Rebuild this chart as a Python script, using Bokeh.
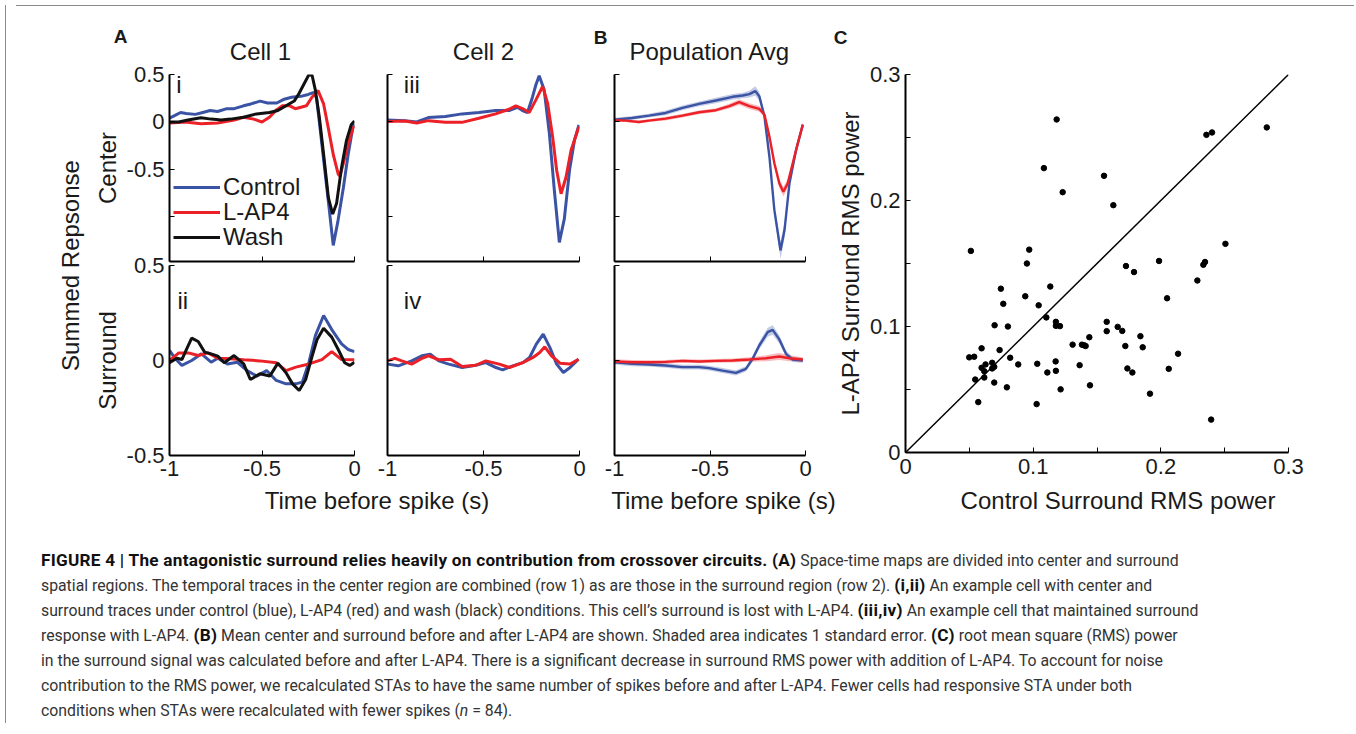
import math
from bokeh.plotting import figure
from bokeh.models import Range1d, FixedTicker, Label, Legend, LegendItem, Slope, Div
from bokeh.layouts import row, column
from bokeh.embed import file_html
from bokeh.resources import INLINE

FONT = "Liberation Sans"
TXT = "#1a1a1a"
BLUE = "#3a53a4"
RED = "#ec2027"
BLACK = "#111111"

# ---------------- data ----------------
# Cell 1, center (i)
c1c_ctrl_t = [-1.00, -0.97, -0.94, -0.91, -0.86, -0.82, -0.78, -0.74, -0.69, -0.65, -0.60, -0.56, -0.51, -0.47,
              -0.42, -0.38, -0.34, -0.29, -0.25, -0.22, -0.205, -0.19, -0.165, -0.14, -0.115, -0.09, -0.06,
              -0.035, -0.01, 0.0]
c1c_ctrl = [0.04, 0.07, 0.10, 0.09, 0.08, 0.10, 0.12, 0.11, 0.14, 0.14, 0.17, 0.19, 0.22, 0.20, 0.20, 0.24, 0.26,
            0.27, 0.29, 0.31, 0.25, 0.00, -0.43, -0.86, -1.30, -1.05, -0.69, -0.35, -0.07, -0.02]
c1c_lap4_t = [-1.00, -0.915, -0.83, -0.74, -0.65, -0.60, -0.545, -0.50, -0.46, -0.42, -0.39, -0.35, -0.32, -0.26,
              -0.23, -0.197, -0.167, -0.141, -0.114, -0.088, -0.079, -0.062, -0.035, -0.009, 0.0]
c1c_lap4 = [-0.01, 0.0, -0.02, -0.01, 0.02, 0.05, 0.03, 0.0, 0.05, 0.13, 0.17, 0.17, 0.14, 0.17, 0.26, 0.33, 0.19,
            -0.07, -0.35, -0.55, -0.57, -0.45, -0.24, -0.07, -0.04]
c1c_wash_t = [-1.00, -0.95, -0.90, -0.83, -0.775, -0.72, -0.67, -0.60, -0.53, -0.46, -0.414, -0.37, -0.326, -0.30,
              -0.273, -0.246, -0.229, -0.211, -0.19, -0.167, -0.141, -0.118, -0.097, -0.07, -0.044, -0.018, 0.0]
c1c_wash = [0.0, 0.0, 0.02, 0.045, 0.03, 0.02, 0.03, 0.05, 0.085, 0.10, 0.12, 0.17, 0.22, 0.30, 0.40, 0.50, 0.49,
            0.33, 0.05, -0.34, -0.80, -0.97, -0.86, -0.48, -0.20, -0.03, 0.01]

# Cell 1, surround (ii)
c1s_ctrl_t = [-1.0, -0.968, -0.933, -0.880, -0.827, -0.775, -0.739, -0.687, -0.634, -0.581, -0.528, -0.475, -0.423,
              -0.370, -0.317, -0.282, -0.246, -0.211, -0.167, -0.123, -0.070, -0.035, 0.0]
c1s_ctrl = [0.053, 0.009, -0.026, 0.0, 0.035, -0.009, 0.012, -0.018, -0.009, -0.053, -0.082, -0.053, -0.105,
            -0.123, -0.123, -0.114, -0.009, 0.132, 0.237, 0.163, 0.088, 0.058, 0.047]
c1s_lap4_t = [-1.0, -0.951, -0.898, -0.845, -0.792, -0.739, -0.669, -0.599, -0.511, -0.423, -0.370, -0.317, -0.246,
              -0.176, -0.123, -0.070, 0.0]
c1s_lap4 = [0.0, 0.039, 0.04, 0.026, 0.04, 0.012, 0.009, 0.004, -0.002, -0.012, -0.053, -0.035, -0.018, 0.005,
            0.047, 0.005, 0.004]
c1s_wash_t = [-1.0, -0.960, -0.933, -0.907, -0.880, -0.845, -0.810, -0.775, -0.739, -0.704, -0.651, -0.599, -0.563,
              -0.511, -0.458, -0.414, -0.370, -0.335, -0.299, -0.264, -0.229, -0.202, -0.167, -0.123, -0.088,
              -0.053, -0.026, 0.0]
c1s_wash = [-0.012, 0.012, 0.005, 0.061, 0.118, 0.1, 0.044, 0.035, 0.023, -0.012, 0.026, -0.018, -0.1, -0.07,
            -0.082, -0.014, -0.065, -0.123, -0.158, -0.1, 0.023, 0.111, 0.17, 0.123, 0.058, -0.012, -0.026, -0.009]

# Cell 2, center (iii)
c2c_ctrl_t = [-1.0, -0.909, -0.848, -0.787, -0.699, -0.612, -0.524, -0.437, -0.367, -0.323, -0.297, -0.271, -0.245,
              -0.227, -0.210, -0.184, -0.157, -0.131, -0.105, -0.079, -0.052, -0.026, -0.003]
c2c_ctrl = [0.021, 0.014, 0.0, 0.046, 0.057, 0.085, 0.099, 0.12, 0.12, 0.155, 0.12, 0.099, 0.261, 0.392, 0.488,
            0.339, -0.12, -0.721, -1.269, -1.021, -0.509, -0.191, -0.032]
c2c_lap4_t = [-1.0, -0.909, -0.848, -0.787, -0.699, -0.612, -0.524, -0.437, -0.367, -0.332, -0.297, -0.262, -0.227,
              -0.192, -0.166, -0.140, -0.119, -0.096, -0.070, -0.044, -0.003]
c2c_lap4 = [0.004, 0.011, -0.011, 0.014, -0.004, -0.004, 0.039, 0.085, 0.134, 0.17, 0.141, 0.099, 0.233, 0.375,
            0.198, -0.155, -0.509, -0.756, -0.58, -0.297, -0.049]

# Cell 2, surround (iv)
c2s_ctrl_t = [-1.0, -0.944, -0.874, -0.821, -0.777, -0.733, -0.681, -0.611, -0.540, -0.488, -0.435, -0.400, -0.347,
              -0.295, -0.260, -0.225, -0.189, -0.154, -0.119, -0.084, -0.049, -0.005]
c2s_ctrl = [-0.019, -0.028, -0.002, 0.025, 0.033, -0.002, -0.019, -0.037, -0.025, -0.011, -0.037, -0.049, -0.028,
            -0.011, 0.016, 0.086, 0.139, 0.068, -0.019, -0.063, -0.037, 0.007]
c2s_lap4_t = [-1.0, -0.961, -0.926, -0.874, -0.821, -0.786, -0.733, -0.672, -0.611, -0.540, -0.488, -0.418, -0.365,
              -0.295, -0.242, -0.207, -0.181, -0.146, -0.102, -0.049, -0.005]
c2s_lap4 = [-0.002, 0.011, -0.002, -0.019, 0.011, 0.025, 0.004, 0.007, -0.032, -0.025, -0.002, -0.019, -0.037,
            -0.011, 0.016, 0.042, 0.072, 0.025, -0.014, -0.019, 0.007]

# Population average, center (mean and standard error)
popc_ctrl_t = [-1.0, -0.907, -0.820, -0.732, -0.644, -0.557, -0.469, -0.382, -0.329, -0.294, -0.263, -0.242, -0.215,
               -0.189, -0.163, -0.131, -0.110, -0.084, -0.049, -0.014]
popc_ctrl = [0.025, 0.042, 0.067, 0.095, 0.148, 0.191, 0.226, 0.265, 0.279, 0.293, 0.325, 0.272, 0.06, -0.364,
             -0.929, -1.353, -1.141, -0.647, -0.293, -0.028]
popc_ctrl_se = [0.02, 0.02, 0.02, 0.025, 0.025, 0.025, 0.03, 0.03, 0.03, 0.035, 0.05, 0.045, 0.04, 0.05, 0.06, 0.09,
                0.08, 0.05, 0.03, 0.02]
popc_lap4_t = [-1.0, -0.942, -0.872, -0.820, -0.732, -0.644, -0.557, -0.469, -0.399, -0.347, -0.294, -0.242, -0.215,
               -0.189, -0.163, -0.137, -0.116, -0.093, -0.067, -0.040, -0.014]
popc_lap4 = [0.018, 0.014, 0.0, 0.014, 0.035, 0.067, 0.102, 0.124, 0.166, 0.208, 0.166, 0.138, 0.078, -0.152,
             -0.435, -0.647, -0.735, -0.647, -0.435, -0.223, -0.028]
popc_lap4_se = [0.015, 0.015, 0.015, 0.015, 0.02, 0.02, 0.02, 0.02, 0.025, 0.03, 0.03, 0.03, 0.03, 0.035, 0.04,
                0.05, 0.05, 0.045, 0.035, 0.025, 0.02]

# Population average, surround
pops_ctrl_t = [-1.0, -0.907, -0.820, -0.732, -0.644, -0.557, -0.504, -0.434, -0.364, -0.312, -0.277, -0.242, -0.198,
               -0.172, -0.137, -0.102, -0.067, -0.014]
pops_ctrl = [-0.009, -0.018, -0.021, -0.026, -0.035, -0.035, -0.04, -0.053, -0.065, -0.044, 0.009, 0.079, 0.149,
             0.161, 0.111, 0.035, 0.005, 0.0]
pops_ctrl_se = [0.012, 0.012, 0.01, 0.012, 0.012, 0.012, 0.012, 0.013, 0.014, 0.014, 0.016, 0.02, 0.024, 0.025,
                0.022, 0.016, 0.013, 0.012]
pops_lap4_t = [-1.0, -0.907, -0.820, -0.732, -0.644, -0.557, -0.469, -0.382, -0.294, -0.207, -0.137, -0.084, -0.014]
pops_lap4 = [-0.005, -0.009, -0.009, -0.007, -0.002, -0.005, -0.002, 0.0, 0.005, 0.012, 0.021, 0.012, 0.005]
pops_lap4_se = [0.012, 0.011, 0.01, 0.01, 0.01, 0.01, 0.01, 0.01, 0.012, 0.016, 0.018, 0.016, 0.012]

# Panel C: RMS power per cell
rms_control = [0.1184, 0.1084, 0.1231, 0.1555, 0.1628, 0.2357, 0.2401, 0.2830, 0.0512, 0.0969, 0.2506,
               0.0951, 0.0747, 0.0766, 0.0938, 0.1043, 0.1134, 0.1103, 0.1178, 0.1178, 0.1210, 0.0698, 0.0802,
               0.0596, 0.0499, 0.0538, 0.0737, 0.0820, 0.0679, 0.0627, 0.0695, 0.0596, 0.0617, 0.0679, 0.0546,
               0.0617, 0.0695, 0.0570, 0.0794, 0.0883, 0.1032, 0.1027, 0.1111, 0.1176, 0.1178, 0.1215, 0.1309,
               0.1382, 0.1398, 0.1411, 0.1440, 0.1364, 0.1445, 0.1576, 0.1576, 0.1662, 0.1698, 0.1722, 0.1727,
               0.1790, 0.1738, 0.1777, 0.1840, 0.1858, 0.1915, 0.1986, 0.2049, 0.2062, 0.2135, 0.2286, 0.2333,
               0.2346, 0.2394]
rms_lap4 = [0.2643, 0.2257, 0.2066, 0.2196, 0.1963, 0.2521, 0.2540, 0.2580, 0.1600, 0.1610, 0.1656,
            0.1500, 0.1300, 0.1180, 0.1240, 0.1168, 0.1317, 0.1072, 0.1037, 0.1005, 0.1003, 0.1010, 0.1000,
            0.0827, 0.0755, 0.0760, 0.0813, 0.0752, 0.0712, 0.0699, 0.0680, 0.0672, 0.0645, 0.0667, 0.0579,
            0.0595, 0.0555, 0.0400, 0.0517, 0.0699, 0.0704, 0.0384, 0.0635, 0.0723, 0.0648, 0.0501, 0.0856,
            0.0856, 0.0851, 0.0845, 0.0915, 0.0693, 0.0533, 0.1037, 0.0963, 0.0997, 0.0965, 0.0845, 0.1480,
            0.1432, 0.0667, 0.0635, 0.0923, 0.0835, 0.0467, 0.1520, 0.1224, 0.0664, 0.0784, 0.1365, 0.1490,
            0.1512, 0.0261]

time_ticks = [-1, -0.5, 0]
time_tick_labels = ["-1", "-0.5", "0"]
center_ticks = [-1, -0.5, 0, 0.5]
center_tick_labels = ["", "-0.5", "0", "0.5"]
surround_ticks = [-0.5, 0, 0.5]
surround_tick_labels = ["-0.5", "0", "0.5"]
rms_ticks = [0, 0.05, 0.1, 0.15, 0.2, 0.25, 0.3]
rms_tick_labels = ["0", "", "0.1", "", "0.2", "", "0.3"]
legend_labels = ["Control", "L-AP4", "Wash"]


# ---------------- helpers ----------------
def base_fig(width, height, xr, yr, left, right, top, bottom, transparent=False, **kw):
    p = figure(width=width, height=height, x_range=Range1d(*xr), y_range=Range1d(*yr),
               output_backend="svg", toolbar_location=None,
               min_border_left=left, min_border_right=right,
               min_border_top=top, min_border_bottom=bottom, **kw)
    p.outline_line_color = None
    p.grid.visible = False
    if transparent:
        p.background_fill_color = None
        p.border_fill_color = None
    else:
        p.background_fill_color = "white"
        p.border_fill_color = "white"
    return p


def style_axis(ax, ticks, labels=None, tick_len=5, font_size="22px"):
    ax.ticker = FixedTicker(ticks=ticks)
    ax.axis_line_color = "black"
    ax.axis_line_width = 2
    ax.major_tick_in = tick_len
    ax.major_tick_out = 0
    ax.major_tick_line_color = "black"
    ax.major_tick_line_width = 1
    ax.minor_tick_line_color = None
    ax.major_label_text_font = FONT
    ax.major_label_text_color = TXT
    ax.axis_label_text_font = FONT
    ax.axis_label_text_font_size = "24px"
    ax.axis_label_text_font_style = "normal"
    ax.axis_label_text_color = TXT
    ax.axis_label_standoff = 3
    if labels is None:
        ax.major_label_overrides = {t: "" for t in ticks}
        ax.major_label_text_font_size = "1px"
        ax.major_label_standoff = 0
    else:
        ax.major_label_overrides = dict(zip(ticks, labels))
        ax.major_label_text_font_size = font_size
        ax.major_label_standoff = 5


def add_text(p, x, y, text, size="24px", style="normal", align="center", baseline="middle", angle=0.0):
    p.add_layout(Label(x=x, y=y, text=text, text_font=FONT, text_font_size=size,
                       text_font_style=style, text_align=align, text_baseline=baseline,
                       text_color=TXT, angle=angle))


def center_panel(width, left, right, ylabels):
    p = base_fig(width, 207, (-1, 0), (-1.47, 0.5), left, right, 18, 2, transparent=True)
    style_axis(p.xaxis[0], time_ticks, None)
    style_axis(p.yaxis[0], center_ticks, center_tick_labels if ylabels else None)
    return p


def surround_panel(width, left, right, ylabels):
    p = base_fig(width, 236, (-1, 0), (-0.5, 0.5), left, right, 14, 32, transparent=True)
    style_axis(p.xaxis[0], time_ticks, time_tick_labels)
    style_axis(p.yaxis[0], surround_ticks, surround_tick_labels if ylabels else None)
    return p


def band(p, t, m, se, color):
    p.varea(x=t, y1=[a - b for a, b in zip(m, se)], y2=[a + b for a, b in zip(m, se)],
            fill_color=color, fill_alpha=0.3)


LW = 3.0
LWP = 2.4

# ---------------- panel A, cell 1 ----------------
c_i = center_panel(277, 75, 13, True)
c_i.yaxis[0].axis_label = "Center"
r_ctrl = c_i.line(c1c_ctrl_t, c1c_ctrl, line_color=BLUE, line_width=LW)
r_lap4 = c_i.line(c1c_lap4_t, c1c_lap4, line_color=RED, line_width=LW)
r_wash = c_i.line(c1c_wash_t, c1c_wash, line_color=BLACK, line_width=LW)
# one legend per entry, so that the row pitch matches the original
for k, (lab, rend) in enumerate(zip(legend_labels, [r_ctrl, r_lap4, r_wash])):
    c_i.add_layout(Legend(items=[LegendItem(label=lab, renderers=[rend])],
                          location=(4, 60 - 25 * k), border_line_color=None, background_fill_alpha=0,
                          padding=0, margin=0, spacing=0, glyph_width=47, glyph_height=20,
                          label_height=20, label_standoff=3, label_text_font=FONT,
                          label_text_font_size="24px", label_text_color=TXT))
add_text(c_i, -0.963, 0.398, "i", size="24px", align="left", baseline="alphabetic")

s_ii = surround_panel(277, 75, 13, True)
s_ii.yaxis[0].axis_label = "Surround"
s_ii.line(c1s_ctrl_t, c1s_ctrl, line_color=BLUE, line_width=LW)
s_ii.line(c1s_lap4_t, c1s_lap4, line_color=RED, line_width=LW)
s_ii.line(c1s_wash_t, c1s_wash, line_color=BLACK, line_width=LW)
add_text(s_ii, -0.957, 0.314, "ii", size="24px", align="left", baseline="alphabetic")

# ---------------- panel A, cell 2 ----------------
c_iii = center_panel(225, 20, 13, False)
c_iii.line(c2c_ctrl_t, c2c_ctrl, line_color=BLUE, line_width=LW)
c_iii.line(c2c_lap4_t, c2c_lap4, line_color=RED, line_width=LW)
add_text(c_iii, -0.915, 0.398, "iii", size="24px", align="left", baseline="alphabetic")

s_iv = surround_panel(225, 20, 13, False)
s_iv.line(c2s_ctrl_t, c2s_ctrl, line_color=BLUE, line_width=LW)
s_iv.line(c2s_lap4_t, c2s_lap4, line_color=RED, line_width=LW)
add_text(s_iv, -0.915, 0.314, "iv", size="24px", align="left", baseline="alphabetic")

# ---------------- panel B ----------------
c_B = center_panel(240, 22, 27, False)
band(c_B, popc_ctrl_t, popc_ctrl, popc_ctrl_se, BLUE)
band(c_B, popc_lap4_t, popc_lap4, popc_lap4_se, RED)
c_B.line(popc_ctrl_t, popc_ctrl, line_color=BLUE, line_width=LWP)
c_B.line(popc_lap4_t, popc_lap4, line_color=RED, line_width=LWP)

s_B = surround_panel(240, 22, 27, False)
band(s_B, pops_ctrl_t, pops_ctrl, pops_ctrl_se, BLUE)
band(s_B, pops_lap4_t, pops_lap4, pops_lap4_se, RED)
s_B.line(pops_ctrl_t, pops_ctrl, line_color=BLUE, line_width=LWP)
s_B.line(pops_lap4_t, pops_lap4, line_color=RED, line_width=LWP)

# ---------------- panel C ----------------
sc = base_fig(517, 431, (0, 0.3), (0, 0.3), 73, 61, 18, 35, transparent=True)
style_axis(sc.xaxis[0], rms_ticks, rms_tick_labels, tick_len=5)
style_axis(sc.yaxis[0], rms_ticks, rms_tick_labels, tick_len=5)
sc.xaxis[0].major_label_standoff = 6
sc.yaxis[0].axis_label = "L-AP4 Surround RMS power"
sc.add_layout(Slope(gradient=1, y_intercept=0, line_color="black", line_width=1.5))
sc.scatter(rms_control, rms_lap4, size=5.5, color="black")

# ---------------- shared text strips ----------------
summed = base_fig(79, 511, (0, 79), (0, 511), 0, 0, 0, 0, x_axis_location=None, y_axis_location=None)
add_text(summed, 59, 257, "Summed Repsonse", angle=math.pi / 2)

header = base_fig(1259, 57, (0, 1259), (0, 57), 0, 0, 0, 0, x_axis_location=None, y_axis_location=None)
add_text(header, 30, 32, "A", size="19px", style="bold")
add_text(header, 510, 31, "B", size="19px", style="bold")
add_text(header, 750, 31, "C", size="19px", style="bold")
add_text(header, 170, 17, "Cell 1")
add_text(header, 393, 17, "Cell 2")
add_text(header, 619.5, 17, "Population Avg")

xstrip = base_fig(1259, 35, (0, 1259), (0, 35), 0, 0, 0, 0, x_axis_location=None, y_axis_location=None)
add_text(xstrip, 286.5, 22, "Time before spike (s)")
add_text(xstrip, 633, 22, "Time before spike (s)")
add_text(xstrip, 1027.5, 22, "Control Surround RMS power")

panels = column(row(c_i, c_iii, c_B), row(s_ii, s_iv, s_B, margin=(-12, 0, 0, 0)))
upper = row(panels, sc, margin=(-12, 0, 0, 0))
right_block = column(header, upper, xstrip)
top_row = row(summed, right_block)

B = '<b style="color:#111; font-weight:700; font-size:17.2px; letter-spacing:0.25px">'
caption_lines = [
    B + 'FIGURE 4 | The antagonistic surround relies heavily on contribution from crossover circuits. (A)</b> Space-time maps are divided into center and surround',
    'spatial regions. The temporal traces in the center region are combined (row 1) as are those in the surround region (row 2). ' + B + '(i,ii)</b> An example cell with center and',
    'surround traces under control (blue), L-AP4 (red) and wash (black) conditions. This cell\u2019s surround is lost with L-AP4. ' + B + '(iii,iv)</b> An example cell that maintained surround',
    'response with L-AP4. ' + B + '(B)</b> Mean center and surround before and after L-AP4 are shown. Shaded area indicates 1 standard error. ' + B + '(C)</b> root mean square (RMS) power',
    'in the surround signal was calculated before and after L-AP4. There is a significant decrease in surround RMS power with addition of L-AP4. To account for noise',
    'contribution to the RMS power, we recalculated STAs to have the same number of spikes before and after L-AP4. Fewer cells had responsive STA under both',
    'conditions when STAs were recalculated with fewer spikes (<i>n</i> = 84).',
]
caption_html = ('<div style="font-family:Roboto, \'Liberation Sans\', sans-serif; font-weight:400; '
                'font-size:15.8px; line-height:25px; color:#333; padding:21px 0 0 25px; '
                'white-space:nowrap;">' + "<br>".join(caption_lines) + '</div>')
caption = Div(text=caption_html, width=1338, height=206)

border_col = "#8a8a8a"
top_border = Div(text="", width=1338, height=1, styles={"background-color": border_col})
left_border = Div(text="", width=1, height=718, styles={"background-color": border_col})
right_border = Div(text="", width=1, height=718, styles={"background-color": border_col})

main = column(top_border, top_row, caption)
page = row(left_border, main, right_border)

open("out.html", "w").write(file_html(page, INLINE))
